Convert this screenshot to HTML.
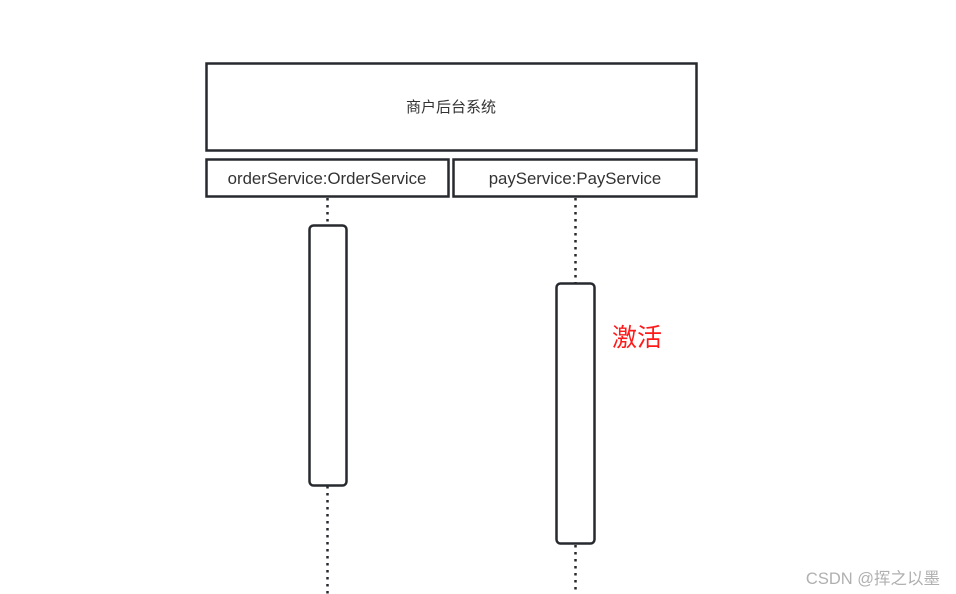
<!DOCTYPE html>
<html><head><meta charset="utf-8"><style>
html,body{margin:0;padding:0;background:#fff;width:956px;height:594px;overflow:hidden}
</style></head><body>
<svg width="956" height="594" xmlns="http://www.w3.org/2000/svg" font-family="'Liberation Sans','Noto Sans CJK SC',sans-serif">
<g fill="#fff" stroke="#26292e" stroke-width="2.5">
<rect x="206.5" y="63.5" width="490" height="87"/>
<rect x="206.5" y="159.5" width="242" height="37"/>
<rect x="453.5" y="159.5" width="243" height="37"/>
</g>
<g stroke="#26292e" stroke-width="2.5" stroke-dasharray="2.5,4.5" fill="none">
<line x1="327.5" y1="198" x2="327.5" y2="225"/>
<line x1="327.5" y1="486" x2="327.5" y2="594"/>
<line x1="575.5" y1="198" x2="575.5" y2="283"/>
<line x1="575.5" y1="545" x2="575.5" y2="594"/>
</g>
<g fill="#fff" stroke="#26292e" stroke-width="2.5">
<rect x="309.5" y="225.5" width="37" height="260" rx="4"/>
<rect x="556.5" y="283.5" width="38" height="260" rx="4"/>
</g>
<g fill="#333" text-anchor="middle">
<text x="451" y="112" font-size="15">商户后台系统</text>
<text x="327" y="184" font-size="16.8">orderService:OrderService</text>
<text x="575" y="184" font-size="16.8">payService:PayService</text>
</g>
<text x="612" y="346" font-size="25" fill="#ff1a1a" font-family="'Noto Sans CJK SC',sans-serif">激活</text>
<text x="940" y="584" font-size="16.5" fill="#b0b0b0" text-anchor="end">CSDN @挥之以墨</text>
</svg>
</body></html>
